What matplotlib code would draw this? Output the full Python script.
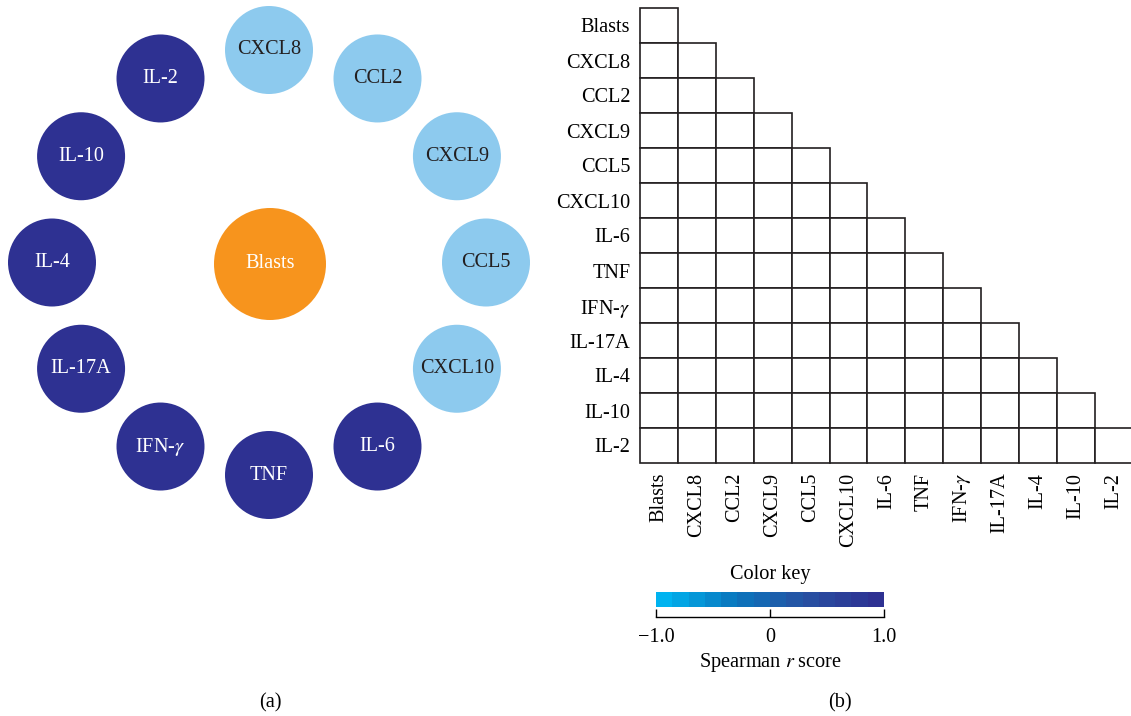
import numpy as np
import matplotlib
matplotlib.use("Agg")
import matplotlib.pyplot as plt
from matplotlib.patches import Circle, Rectangle
from matplotlib.colors import LinearSegmentedColormap, Normalize
from matplotlib.cm import ScalarMappable

plt.rcParams['font.family'] = ['Liberation Serif', 'DejaVu Serif']
plt.rcParams['mathtext.fontset'] = 'stix'

# --- data ---
ring_nodes = ['CXCL8', 'CCL2', 'CXCL9', 'CCL5', 'CXCL10', 'IL-6',
              'TNF', 'IFN-$\\gamma$', 'IL-17A', 'IL-4', 'IL-10', 'IL-2']
ring_groups = ['chemokine'] * 5 + ['cytokine'] * 7
center_node = 'Blasts'

matrix_labels = ['Blasts', 'CXCL8', 'CCL2', 'CXCL9', 'CCL5', 'CXCL10', 'IL-6',
                 'TNF', 'IFN-$\\gamma$', 'IL-17A', 'IL-4', 'IL-10', 'IL-2']
cbar_ticks = [-1.0, 0, 1.0]
cbar_ticklabels = ['\u22121.0', '0', '1.0']

group_colors = {'chemokine': '#8dcaee', 'cytokine': '#2e3192'}
text_colors = {'chemokine': '#231f20', 'cytokine': 'white'}

FS = 14.6
W, H = 1131, 716
fig = plt.figure(figsize=(W / 100, H / 100), dpi=100)

# --- (a) network ring ---
ax = fig.add_axes([0, 0, 1, 1])
ax.set_xlim(0, W)
ax.set_ylim(H, 0)
ax.set_aspect('equal')
ax.axis('off')

cx, cy, rx, ry = 269, 262.5, 217, 212.5
for k, (name, grp) in enumerate(zip(ring_nodes, ring_groups)):
    ang = np.deg2rad(90 - 30 * k)
    x = cx + rx * np.cos(ang)
    y = cy - ry * np.sin(ang)
    ax.add_patch(Circle((x, y), 44, color=group_colors[grp], lw=0))
    ax.text(x, y, name, ha='center', va='center', fontsize=FS,
            color=text_colors[grp])

ax.add_patch(Circle((270, 264), 56, color='#f7941d', lw=0))
ax.text(270, 264, center_node, ha='center', va='center', fontsize=FS,
        color='white')

ax.text(270, 703, '(a)', ha='center', va='center', fontsize=FS)
ax.text(840, 703, '(b)', ha='center', va='center', fontsize=FS)

# --- (b) correlation matrix (lower triangle, blank cells) ---
n = len(matrix_labels)
mx0, my0, cw, ch = 640, 8, 37.9, 35.0
axm = fig.add_axes([mx0 / W, 1 - (my0 + n * ch) / H, n * cw / W, n * ch / H])
axm.set_xlim(0, n)
axm.set_ylim(n, 0)
for i in range(n):
    for j in range(i + 1):
        axm.add_patch(Rectangle((j, i), 1, 1, facecolor='white',
                                edgecolor='#231f20', lw=1.2, clip_on=False))
for s in axm.spines.values():
    s.set_visible(False)
axm.set_yticks(np.arange(n) + 0.5)
axm.set_yticklabels(matrix_labels, fontsize=FS)
axm.set_xticks(np.arange(n) + 0.5)
axm.set_xticklabels(matrix_labels, fontsize=FS, rotation=90, va='top')
axm.tick_params(length=0, pad=7)
axm.patch.set_alpha(0)

# --- colour key ---
cmap = LinearSegmentedColormap.from_list(
    'key', ['#00b3f0', '#0a76bd', '#2750a2', '#2e3192'], N=14)
cax = fig.add_axes([656 / W, 1 - 607 / H, 228 / W, 15 / H])
cb = fig.colorbar(ScalarMappable(norm=Normalize(-1, 1), cmap=cmap),
                  cax=cax, orientation='horizontal')
cb.outline.set_visible(False)
cax.set_xticks([])

sax = fig.add_axes([656 / W, 1 - 617 / H, 228 / W, 1 / H])
sax.set_xlim(-1, 1)
sax.set_yticks([])
for side in ['top', 'left', 'right']:
    sax.spines[side].set_visible(False)
sax.spines['bottom'].set_linewidth(1.0)
sax.set_xticks(cbar_ticks)
sax.set_xticklabels(cbar_ticklabels, fontsize=FS)
sax.tick_params(axis='x', direction='in', length=6, width=1.0, pad=8)
sax.patch.set_alpha(0)

fig.text(770 / W, 1 - 574 / H, 'Color key', ha='center', va='center', fontsize=FS)
fig.text(770 / W, 1 - 662 / H, 'Spearman $r$ score', ha='center', va='center',
         fontsize=FS)

fig.savefig('out.png', dpi=100)
